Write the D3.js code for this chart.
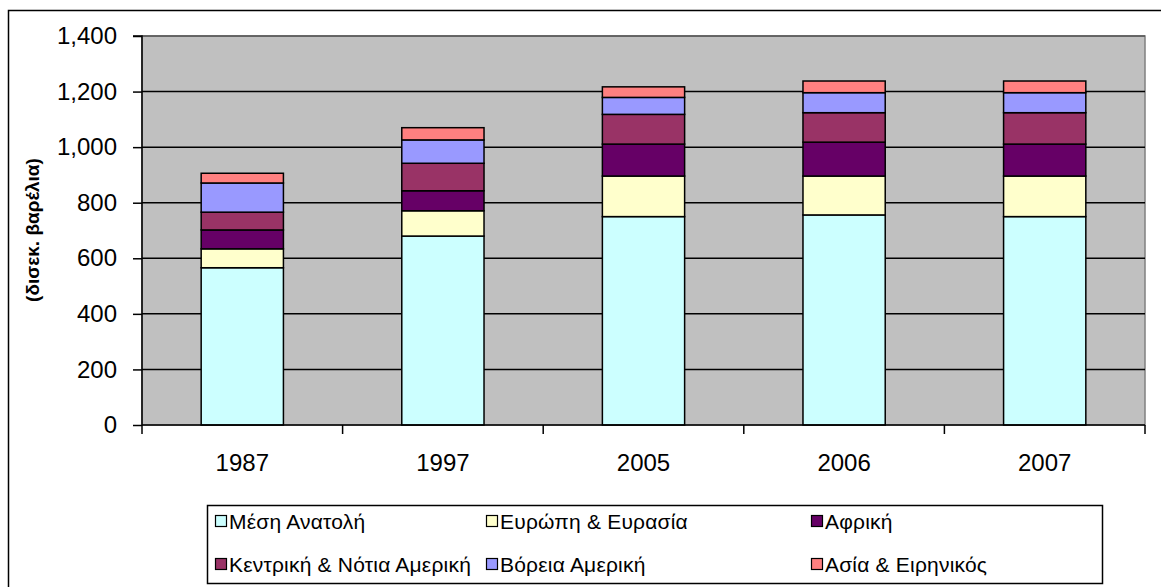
<!DOCTYPE html>
<html lang="el">
<head>
<meta charset="UTF-8">
<title>Αποθέματα πετρελαίου</title>
<style>
    body { margin: 0; background: #fff; }
    svg { display: block; font-family: "Liberation Sans", Arial, sans-serif; }
    .grid line { stroke-width: 1.5px; }
    .seg { stroke: #000; stroke-width: 1.5px; }
    .tick text { fill: #000; }
</style>
<script src="https://cdn.jsdelivr.net/npm/d3@7"></script>
</head>
<body>
<div id="chart"></div>
<script>
    // years on the x axis
    const years = ["1987", "1997", "2005", "2006", "2007"];

    // series, bottom to top of each stack
    const regions = ["Μέση Ανατολή", "Ευρώπη & Ευρασία", "Αφρική",
                     "Κεντρική & Νότια Αμερική", "Βόρεια Αμερική", "Ασία & Ειρηνικός"];
    const colors = ["#CCFFFF", "#FFFFCC", "#660066", "#993366", "#9999FF", "#FF8080"];

    // values in billion barrels
    const middleEast = [566, 680, 750, 756, 750];
    const europe     = [68, 91, 146, 140, 146];
    const africa     = [68, 72, 115, 122, 115];
    const latAm      = [64, 99, 107, 106, 113];
    const northAm    = [105, 84, 61, 72, 72];
    const asiaPac    = [35, 44, 38, 42, 42];

    const yTicks = [0, 200, 400, 600, 800, 1000, 1200, 1400];

    const width = 1161, height = 587;
    const plot = { left: 142, top: 36, right: 1145, bottom: 425 };

    const svg = d3.select("#chart").append("svg")
        .attr("width", width)
        .attr("height", height);

    // outer chart border (cropped on the right and bottom)
    svg.append("rect")
        .attr("x", 8.5).attr("y", 10.5)
        .attr("width", width).attr("height", height)
        .attr("fill", "none").attr("stroke", "#000").attr("stroke-width", 1.5);

    const x = d3.scaleBand()
        .domain(years)
        .range([plot.left, plot.right])
        .paddingInner(0.59)
        .paddingOuter(0.295);

    const y = d3.scaleLinear()
        .domain([0, 1400])
        .range([plot.bottom, plot.top]);

    // plot background
    svg.append("rect")
        .attr("x", plot.left).attr("y", plot.top)
        .attr("width", plot.right - plot.left)
        .attr("height", plot.bottom - plot.top)
        .attr("fill", "#C0C0C0")
        .attr("stroke", "#808080").attr("stroke-width", 1.5);

    // gridlines
    svg.append("g").attr("class", "grid")
        .selectAll("line")
        .data(yTicks.filter(d => d > 0))
        .join("line")
        .attr("x1", plot.left).attr("x2", plot.right)
        .attr("y1", d => y(d)).attr("y2", d => y(d))
        .attr("stroke", d => d === 1400 ? "#555" : "#000");

    // stacked bars
    const table = years.map((yr, i) => ({
        year: yr,
        "Μέση Ανατολή": middleEast[i],
        "Ευρώπη & Ευρασία": europe[i],
        "Αφρική": africa[i],
        "Κεντρική & Νότια Αμερική": latAm[i],
        "Βόρεια Αμερική": northAm[i],
        "Ασία & Ειρηνικός": asiaPac[i]
    }));
    const stacked = d3.stack().keys(regions)(table);

    svg.append("g")
        .selectAll("g")
        .data(stacked)
        .join("g")
        .attr("fill", (d, i) => colors[i])
        .selectAll("rect")
        .data(d => d)
        .join("rect")
        .attr("class", "seg")
        .attr("x", d => x(d.data.year))
        .attr("width", x.bandwidth())
        .attr("y", d => y(d[1]))
        .attr("height", d => y(d[0]) - y(d[1]));

    // y axis
    const yAxis = svg.append("g")
        .attr("transform", `translate(${plot.left},0)`)
        .call(d3.axisLeft(y).tickValues(yTicks).tickSize(9).tickPadding(16)
            .tickFormat(d3.format(",")));
    yAxis.selectAll("text").attr("font-size", 24).attr("font-family", "Liberation Sans, Arial, sans-serif");
    yAxis.selectAll("line, path").attr("stroke", "#000").attr("stroke-width", 1.5);
    yAxis.select(".domain").attr("d", `M-9,${plot.top}H0V${plot.bottom}`);

    // x axis with ticks between categories
    const xBounds = d3.range(years.length + 1).map(i => plot.left + i * (plot.right - plot.left) / years.length);
    const xAxis = svg.append("g");
    xAxis.append("line")
        .attr("x1", plot.left).attr("x2", plot.right)
        .attr("y1", plot.bottom).attr("y2", plot.bottom)
        .attr("stroke", "#000").attr("stroke-width", 1.5);
    xAxis.selectAll(".xt")
        .data(xBounds)
        .join("line")
        .attr("x1", d => d).attr("x2", d => d)
        .attr("y1", plot.bottom).attr("y2", plot.bottom + 9)
        .attr("stroke", "#000").attr("stroke-width", 1.5);
    xAxis.selectAll("text")
        .data(years)
        .join("text")
        .attr("x", d => x(d) + x.bandwidth() / 2)
        .attr("y", 471)
        .attr("text-anchor", "middle")
        .attr("font-size", 24)
        .text(d => d);

    // y axis title
    svg.append("text")
        .attr("transform", "translate(39,230) rotate(-90)")
        .attr("text-anchor", "middle")
        .attr("font-size", 19)
        .attr("font-weight", "bold")
        .text("(δισεκ. βαρέλια)");

    // legend
    const legend = svg.append("g");
    legend.append("rect")
        .attr("x", 207.5).attr("y", 505.5)
        .attr("width", 895).attr("height", 78)
        .attr("fill", "#fff").attr("stroke", "#000").attr("stroke-width", 1.5);

    const colX = [215, 486, 811];
    const rowY = [522, 565];
    const items = legend.selectAll(".item")
        .data(regions)
        .join("g")
        .attr("transform", (d, i) => `translate(${colX[i % 3]},${rowY[Math.floor(i / 3)]})`);
    items.append("rect")
        .attr("x", 0.5).attr("y", -6.5)
        .attr("width", 11).attr("height", 11)
        .attr("fill", (d, i) => colors[regions.indexOf(d)])
        .attr("stroke", "#000").attr("stroke-width", 1.2);
    items.append("text")
        .attr("x", 14).attr("y", 7)
        .attr("font-size", 21)
        .attr("letter-spacing", 0.2)
        .text(d => d);
</script>
</body>
</html>
